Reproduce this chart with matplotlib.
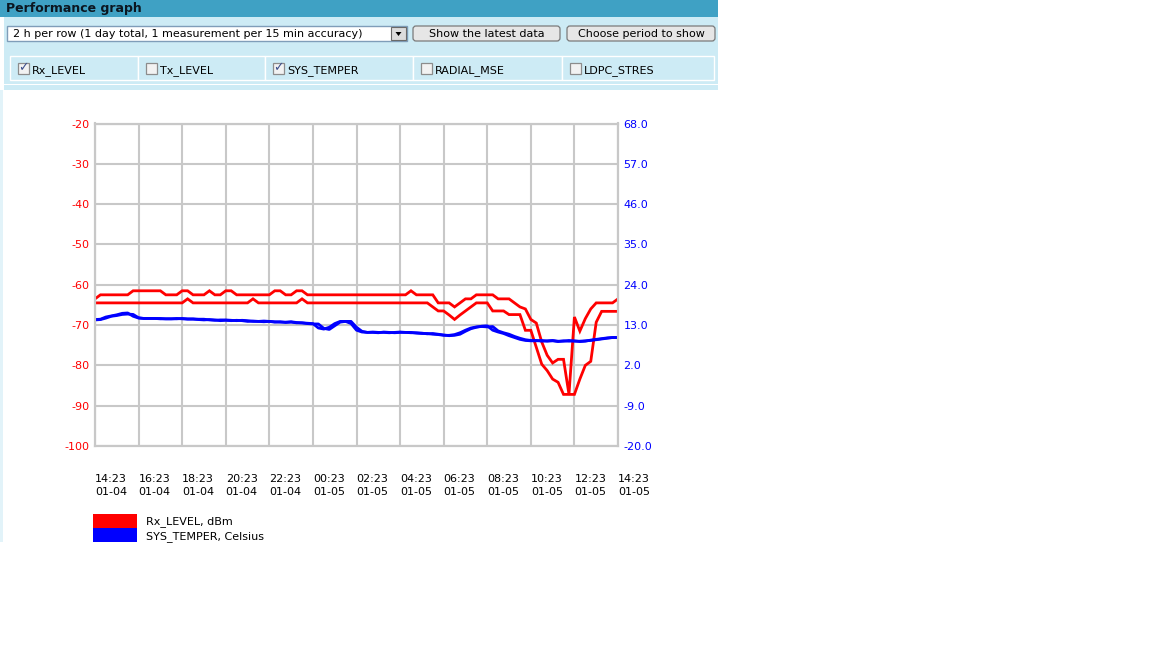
#!/usr/bin/env python
# -*- coding: utf-8 -*-

## Imports & params

import numpy as np
import matplotlib
matplotlib.use('Agg')
import matplotlib.pyplot as plt
from matplotlib.patches import Rectangle, FancyBboxPatch, Polygon

# Data : one sample every 15 min, 14:23 01-04 -> 14:23 01-05 (97 samples)
step_hours = 0.25

# Rx_LEVEL (dBm), upper and lower envelope
rx_max = [-63.5, -62.5, -62.5, -62.5, -62.5, -62.5, -62.5, -61.5, -61.5, -61.5,
          -61.5, -61.5, -61.5, -62.5, -62.5, -62.5, -61.5, -61.5, -62.5, -62.5,
          -62.5, -61.5, -62.5, -62.5, -61.5, -61.5, -62.5, -62.5, -62.5, -62.5,
          -62.5, -62.5, -62.5, -61.5, -61.5, -62.5, -62.5, -61.5, -61.5, -62.5,
          -62.5, -62.5, -62.5, -62.5, -62.5, -62.5, -62.5, -62.5, -62.5, -62.5,
          -62.5, -62.5, -62.5, -62.5, -62.5, -62.5, -62.5, -62.5, -61.5, -62.5,
          -62.5, -62.5, -62.5, -64.5, -64.5, -64.5, -65.5, -64.5, -63.5, -63.5,
          -62.5, -62.5, -62.5, -62.5, -63.5, -63.5, -63.5, -64.5, -65.5, -66.0,
          -68.6, -69.5, -74.2, -77.5, -79.4, -78.5, -78.5, -87.2, -68.0, -71.5,
          -68.4, -66.0, -64.5, -64.5, -64.5, -64.5, -63.5]

rx_min = [-64.5, -64.5, -64.5, -64.5, -64.5, -64.5, -64.5, -64.5, -64.5, -64.5,
          -64.5, -64.5, -64.5, -64.5, -64.5, -64.5, -64.5, -63.5, -64.5, -64.5,
          -64.5, -64.5, -64.5, -64.5, -64.5, -64.5, -64.5, -64.5, -64.5, -63.5,
          -64.5, -64.5, -64.5, -64.5, -64.5, -64.5, -64.5, -64.5, -63.5, -64.5,
          -64.5, -64.5, -64.5, -64.5, -64.5, -64.5, -64.5, -64.5, -64.5, -64.5,
          -64.5, -64.5, -64.5, -64.5, -64.5, -64.5, -64.5, -64.5, -64.5, -64.5,
          -64.5, -64.5, -65.5, -66.5, -66.5, -67.5, -68.6, -67.5, -66.5, -65.5,
          -64.5, -64.5, -64.5, -66.5, -66.5, -66.5, -67.4, -67.4, -67.4, -71.3,
          -71.3, -75.5, -79.7, -81.3, -83.4, -84.2, -87.2, -87.2, -87.2, -83.4,
          -80.0, -79.0, -69.3, -66.6, -66.6, -66.6, -66.6]

# SYS_TEMPER (Celsius), two close traces
temp_a = [14.5, 14.6, 15.2, 15.5, 15.8, 16.2, 16.3, 15.4, 14.9, 14.8,
          14.8, 14.8, 14.7, 14.7, 14.7, 14.7, 14.8, 14.7, 14.7, 14.6,
          14.6, 14.4, 14.3, 14.4, 14.4, 14.3, 14.2, 14.3, 14.2, 14.0,
          14.0, 14.1, 14.0, 13.9, 13.8, 13.8, 13.9, 13.7, 13.6, 13.5,
          13.4, 12.2, 11.9, 12.4, 13.4, 14.0, 14.0, 13.4, 11.6, 11.1,
          11.0, 11.1, 11.0, 11.0, 10.9, 11.0, 11.1, 11.0, 10.9, 10.9,
          10.8, 10.6, 10.7, 10.5, 10.3, 10.1, 10.2, 10.5, 11.3, 12.0,
          12.4, 12.7, 12.8, 11.6, 11.1, 10.7, 10.1, 9.6, 9.1, 8.8,
          8.7, 8.7, 8.8, 8.6, 8.7, 8.5, 8.7, 8.6, 8.7, 8.5,
          8.6, 8.9, 9.1, 9.3, 9.5, 9.6, 9.6]

temp_b = [14.4, 14.5, 14.9, 15.4, 15.6, 15.9, 16.0, 15.9, 15.0, 14.8,
          14.8, 14.8, 14.8, 14.7, 14.7, 14.8, 14.7, 14.6, 14.6, 14.5,
          14.4, 14.5, 14.4, 14.2, 14.3, 14.2, 14.3, 14.2, 14.0, 14.1,
          14.0, 13.9, 14.0, 13.8, 13.9, 13.7, 13.8, 13.6, 13.6, 13.4,
          13.3, 13.3, 12.1, 11.8, 12.8, 13.8, 14.0, 14.0, 12.4, 11.3,
          11.0, 11.0, 10.9, 11.1, 11.0, 10.9, 11.0, 11.0, 11.0, 10.8,
          10.7, 10.7, 10.5, 10.4, 10.2, 10.2, 10.4, 10.9, 11.6, 12.2,
          12.5, 12.6, 12.5, 12.6, 11.4, 10.9, 10.5, 9.9, 9.4, 9.0,
          8.8, 8.8, 8.6, 8.7, 8.8, 8.6, 8.6, 8.8, 8.6, 8.6,
          8.7, 8.8, 9.0, 9.2, 9.4, 9.6, 9.6]

# Axes ticks
rx_ticks = [-100, -90, -80, -70, -60, -50, -40, -30, -20]
temp_ticks = [-20.0, -9.0, 2.0, 13.0, 24.0, 35.0, 46.0, 57.0, 68.0]
time_labels = ['14:23\n01-04', '16:23\n01-04', '18:23\n01-04', '20:23\n01-04',
               '22:23\n01-04', '00:23\n01-05', '02:23\n01-05', '04:23\n01-05',
               '06:23\n01-05', '08:23\n01-05', '10:23\n01-05', '12:23\n01-05',
               '14:23\n01-05']

# Page UI texts
title = 'Performance graph'
period_text = '2 h per row (1 day total, 1 measurement per 15 min accuracy)'
buttons = ['Show the latest data', 'Choose period to show']
params = ['Rx_LEVEL', 'Tx_LEVEL', 'SYS_TEMPER', 'RADIAL_MSE', 'LDPC_STRES']
checked = [True, False, True, False, False]
legend_labels = ['Rx_LEVEL, dBm', 'SYS_TEMPER, Celsius']

RED = '#ff0000'
BLUE = '#0000ff'
GRID = '#c8c8c8'
BAR = '#3fa1c4'
PANEL = '#cdebf5'

## Figure

W, H = 1152, 648
fig = plt.figure(figsize=(W / 100, H / 100), dpi=100)
fig.patch.set_facecolor('white')

# UI layer in pixel coordinates
ui = fig.add_axes([0, 0, 1, 1])
ui.set_xlim(0, W)
ui.set_ylim(H, 0)
ui.axis('off')

# title bar
ui.add_patch(Rectangle((0, 0), 718, 17, color=BAR, lw=0))
ui.text(6, 8.5, title, fontsize=9, fontweight='bold', color='#0b1620', va='center')

# light blue panel
ui.add_patch(Rectangle((4, 17), 714, 73, color=PANEL, lw=0))
ui.add_patch(Rectangle((4, 83.5), 714, 1.5, color='white', lw=0))
ui.add_patch(Rectangle((0, 90), 3, 452, color='#e2f3f9', lw=0))

# drop-down list
ui.add_patch(Rectangle((7, 26), 400, 15, facecolor='white', edgecolor='#7f9db9', lw=1))
ui.text(13, 34, period_text, fontsize=8, va='center', color='black')
ui.add_patch(Rectangle((391, 27), 15, 13, facecolor='#dcdcdc', edgecolor='#6a6a6a', lw=0.8))
ui.add_patch(Polygon([[395.5, 32], [401.5, 32], [398.5, 36]], closed=True, color='black', lw=0))

# buttons
for x0, w, txt in zip([413, 567], [147, 148], buttons):
    ui.add_patch(FancyBboxPatch((x0, 26), w, 15, boxstyle='round,pad=0,rounding_size=3',
                                facecolor='#e6e6e6', edgecolor='#7a7a7a', lw=0.9))
    ui.text(x0 + w / 2, 34, txt, fontsize=8, ha='center', va='center', color='black')

# check boxes row
cells = [10, 138, 265, 413, 562, 714]
for k, name in enumerate(params):
    x0, x1 = cells[k], cells[k + 1]
    ui.add_patch(Rectangle((x0, 56), x1 - x0, 24, facecolor=PANEL, edgecolor='white', lw=1))
    ui.add_patch(Rectangle((x0 + 7.5, 62.5), 11, 11, facecolor='#f2f2f2', edgecolor='#8c8c8c', lw=0.9))
    if checked[k]:
        ui.text(x0 + 13, 67.5, '\u2713', fontsize=9, ha='center', va='center', color='#3c4f8c')
    ui.text(x0 + 22, 71, name, fontsize=8, va='center', color='black')

# legend (colour swatches and names)
ui.add_patch(Rectangle((93, 514), 44, 14, color=RED, lw=0))
ui.add_patch(Rectangle((93, 528), 44, 14, color=BLUE, lw=0))
ui.text(146, 522, legend_labels[0], fontsize=8, va='center', color='black')
ui.text(146, 537, legend_labels[1], fontsize=8, va='center', color='black')

## Chart

x = np.arange(len(rx_max)) * step_hours

ax = fig.add_axes([95 / W, 1 - 446 / H, 523 / W, 322.5 / H])
ax.set_facecolor('white')
ax.plot(x, rx_max, color=RED, lw=2.0, solid_joinstyle='miter')
ax.plot(x, rx_min, color=RED, lw=2.0, solid_joinstyle='miter')
ax.set_xlim(0, 24)
ax.set_ylim(-100, -20)
ax.set_yticks(rx_ticks)
ax.set_yticklabels([str(v) for v in rx_ticks])
ax.set_xticks(np.arange(0, 25, 2))
ax.set_xticklabels(time_labels, linespacing=1.45, ha='left')
ax.grid(True, color=GRID, lw=1.5)
ax.set_axisbelow(True)
ax.tick_params(axis='y', length=0, pad=4, labelsize=8, labelcolor=RED)
ax.tick_params(axis='x', length=0, pad=20, labelsize=8, labelcolor='black')
for s in ax.spines.values():
    s.set_color(GRID)
    s.set_linewidth(1.5)

ax2 = ax.twinx()
ax2.plot(x, temp_a, color=BLUE, lw=2.0)
ax2.plot(x, temp_b, color=BLUE, lw=2.0)
ax2.set_ylim(-20, 68)
ax2.set_yticks(temp_ticks)
ax2.set_yticklabels(['%.1f' % v for v in temp_ticks])
ax2.tick_params(axis='y', length=0, pad=4, labelsize=8, labelcolor=BLUE)
for s in ax2.spines.values():
    s.set_color(GRID)
    s.set_linewidth(1.5)

plt.savefig('out.png', dpi=100)
